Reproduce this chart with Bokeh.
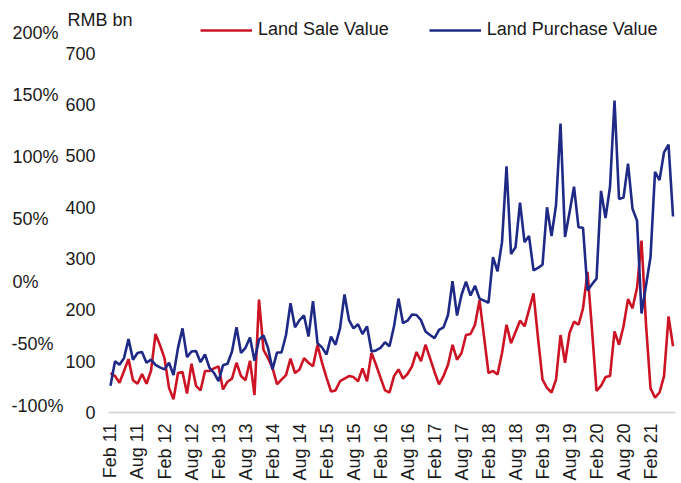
from bokeh.plotting import figure
from bokeh.models import (ColumnDataSource, Range1d, LinearAxis, FixedTicker,
                          Legend, LegendItem)
from bokeh.embed import file_html
from bokeh.resources import INLINE

# ---- data (monthly, Feb 2011 .. Jul 2021), RMB bn ----
tick_labels = ["Feb 11", "Aug 11", "Feb 12", "Aug 12", "Feb 13", "Aug 13", "Feb 14",
               "Aug 14", "Feb 15", "Aug 15", "Feb 16", "Aug 16", "Feb 17", "Aug 17",
               "Feb 18", "Aug 18", "Feb 19", "Aug 19", "Feb 20", "Aug 20", "Feb 21"]

land_sale = [77, 71, 58, 81, 104, 63, 56, 75, 56, 81, 153, 131, 106, 48, 26, 77, 79, 37,
             95, 52, 43, 81, 81, 86, 90, 45, 60, 66, 97, 71, 63, 101, 34, 220, 122, 106,
             87, 55, 64, 73, 105, 77, 84, 106, 97, 90, 132, 97, 68, 41, 43, 61, 66, 71,
             69, 61, 86, 61, 116, 93, 68, 43, 39, 71, 84, 66, 75, 90, 118, 100, 132, 106,
             79, 55, 71, 93, 132, 103, 116, 151, 153, 171, 219, 148, 77, 81, 74, 116, 171,
             135, 157, 179, 168, 200, 232, 145, 64, 48, 39, 64, 151, 97, 155, 177, 171,
             203, 274, 161, 42, 52, 69, 71, 158, 132, 168, 221, 203, 243, 335, 171, 47,
             29, 39, 71, 187, 129]

land_purchase = [52, 100, 93, 106, 143, 103, 116, 118, 97, 103, 93, 88, 84, 97, 73, 126,
                 164, 108, 119, 120, 98, 113, 87, 77, 61, 92, 95, 119, 166, 116, 126, 146,
                 101, 142, 150, 126, 84, 117, 117, 151, 213, 166, 180, 189, 148, 217, 135,
                 127, 113, 148, 132, 164, 230, 180, 164, 172, 153, 168, 119, 121, 126, 137,
                 129, 168, 222, 174, 179, 191, 190, 180, 158, 151, 145, 161, 166, 190, 256,
                 189, 229, 255, 228, 247, 222, 218, 214, 303, 275, 332, 480, 309, 322, 409,
                 332, 344, 277, 282, 288, 400, 344, 404, 563, 342, 390, 440, 361, 360, 238,
                 250, 261, 432, 379, 440, 608, 416, 419, 485, 397, 374, 193, 248, 303, 469,
                 453, 507, 522, 382]

rmb_ticks = [0, 100, 200, 300, 400, 500, 600, 700]
pct_ticks = [-100, -50, 0, 50, 100, 150, 200]
pct_labels = ["-100%", "-50%", "0%", "50%", "100%", "150%", "200%"]

months = list(range(len(land_sale)))
tick_pos = [i * 6 for i in range(len(tick_labels))]

src = ColumnDataSource(dict(m=months, sale=land_sale, purchase=land_purchase))

FONT = "Liberation Sans"
TXT = "#1a1a1a"
RED = "#CC1424"
BLUE = "#1F2A87"
NBSP = "\u00a0"


def left_pad(label):
    # pad right-aligned percent labels with non-breaking spaces so that they
    # read as left aligned (digit = 2 spaces, minus sign ~ 1 space wide)
    units = 2 * sum(c.isdigit() for c in label) + (1 if label.startswith("-") else 0)
    missing = max(0, 7 - units)  # "-100%" has 7 units
    return label + NBSP * missing


p = figure(width=681, height=483, output_backend="svg", toolbar_location=None,
           x_range=Range1d(-0.444, 125.55), y_range=Range1d(0, 764),
           min_border_left=108, min_border_right=6, min_border_top=20,
           min_border_bottom=68, title="RMB bn")
p.outline_line_color = None
p.background_fill_color = "white"
p.border_fill_color = "white"
p.grid.visible = False

p.title.align = "left"
p.title.offset = -41
p.title.standoff = -18
p.title.text_font = FONT
p.title.text_font_size = "18px"
p.title.text_font_style = "normal"
p.title.text_color = TXT

r_sale = p.line("m", "sale", source=src, line_color=RED, line_width=2.6)
r_pur = p.line("m", "purchase", source=src, line_color=BLUE, line_width=2.6)

# x axis
xa = p.xaxis[0]
xa.ticker = FixedTicker(ticks=tick_pos)
xa.major_label_overrides = {t: l for t, l in zip(tick_pos, tick_labels)}
xa.major_label_orientation = 3.14159265 / 2
xa.axis_line_color = "#d9d9d9"
xa.axis_line_width = 2
xa.major_tick_line_color = None
xa.minor_tick_line_color = None
xa.major_tick_out = 0
xa.major_tick_in = 0
xa.major_label_text_font = FONT
xa.major_label_text_font_size = "18px"
xa.major_label_text_color = TXT
xa.major_label_standoff = 11

# RMB axis
ya = p.yaxis[0]
ya.ticker = FixedTicker(ticks=rmb_ticks)
ya.axis_line_color = None
ya.major_tick_line_color = None
ya.minor_tick_line_color = None
ya.major_tick_out = 0
ya.major_tick_in = 0
ya.major_label_text_font = FONT
ya.major_label_text_font_size = "18px"
ya.major_label_text_color = TXT
ya.major_label_standoff = 13

# percent axis (outer left)
p.extra_y_ranges = {"pct": Range1d(-105.6, 210.4)}
pa = LinearAxis(y_range_name="pct")
pa.ticker = FixedTicker(ticks=pct_ticks)
pa.major_label_overrides = {t: left_pad(l) for t, l in zip(pct_ticks, pct_labels)}
pa.axis_line_color = None
pa.major_tick_line_color = None
pa.minor_tick_line_color = None
pa.major_tick_out = 0
pa.major_tick_in = 0
pa.major_label_text_font = FONT
pa.major_label_text_font_size = "18px"
pa.major_label_text_color = TXT
pa.major_label_standoff = -1
p.add_layout(pa, "left")

legend = Legend(items=[LegendItem(label="Land Sale Value", renderers=[r_sale]),
                       LegendItem(label="Land Purchase Value", renderers=[r_pur])],
                orientation="horizontal", location=(92, 372),
                glyph_width=52, glyph_height=18, label_height=18,
                label_standoff=6, spacing=40, padding=0, margin=0,
                background_fill_alpha=0, border_line_color=None,
                label_text_font=FONT, label_text_font_size="18px",
                label_text_color=TXT)
p.add_layout(legend)

open("out.html", "w").write(file_html(p, INLINE))
